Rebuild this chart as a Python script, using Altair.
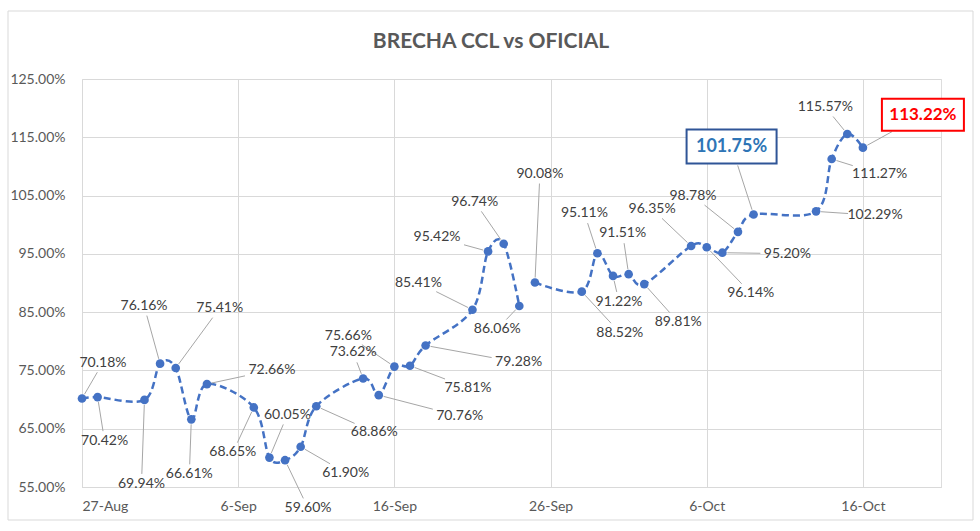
import altair as alt
import pandas as pd
import numpy as np

# ---------------- data ----------------
dates = ["2020-08-27", "2020-08-28", "2020-08-31", "2020-09-01", "2020-09-02", "2020-09-03",
         "2020-09-04", "2020-09-07", "2020-09-08", "2020-09-09", "2020-09-10", "2020-09-11",
         "2020-09-14", "2020-09-15", "2020-09-16", "2020-09-17", "2020-09-18", "2020-09-21",
         "2020-09-22", "2020-09-23", "2020-09-24", "2020-09-25", "2020-09-28", "2020-09-29",
         "2020-09-30", "2020-10-01", "2020-10-02", "2020-10-05", "2020-10-06", "2020-10-07",
         "2020-10-08", "2020-10-09", "2020-10-13", "2020-10-14", "2020-10-15", "2020-10-16"]
brecha = [70.18, 70.42, 69.94, 76.16, 75.41, 66.61, 72.66, 68.65, 60.05, 59.60, 61.90, 68.86,
          73.62, 70.76, 75.66, 75.81, 79.28, 85.41, 95.42, 96.74, 86.06, 90.08, 88.52, 95.11,
          91.22, 91.51, 89.81, 96.35, 96.14, 95.20, 98.78, 101.75, 102.29, 111.27, 115.57, 113.22]
# line is interrupted between 24-Sep and 25-Sep
segment = [0] * 21 + [1] * 15
highlight = ["none"] * 31 + ["blue"] + ["none"] * 3 + ["red"]

tick_days = [0, 10, 20, 30, 40, 50]
tick_labels = ["27-Aug", "6-Sep", "16-Sep", "26-Sep", "6-Oct", "16-Oct"]
y_ticks = [55, 65, 75, 85, 95, 105, 115, 125]
title_text = "BRECHA CCL vs OFICIAL"

# ---------------- label placement (pixels, relative to point) ----------------
label_dx = [21, 7, -3, -16, 44, -2, 65, -21, 18, 23, 45, 58, -10, 81, -46, 58, 93, -54,
            -51, -29, -22, 5, 38, -13, 6, -6, 34, -39, 44, 65, -45, -22, 59, 48, -22, 60]
label_dy = [-36, 44, 84, -58, -60, 55, -14, 45, -43, 48, 26, 26, -26, 21, -31, 22, 17, -27,
            -14, -42, 23, -109, 41, -40, 26, -41, 38, -37, 46, 1, -36, -68, 4, 15, -27, -33]

# ---------------- layout ----------------
W, H = 859, 408
X_DOM = [0, 55]
Y_DOM = [55, 125]
kx = (X_DOM[1] - X_DOM[0]) / W
ky = (Y_DOM[1] - Y_DOM[0]) / H

start = pd.Timestamp(dates[0])
day = (pd.to_datetime(dates) - start).days.astype(float)

df = pd.DataFrame({"date": dates, "day": day, "val": brecha, "seg": segment, "hl": highlight})
df["label"] = [f"{v:.2f}%" for v in brecha]
df["lx"] = df["day"] + np.array(label_dx) * kx
df["ly"] = df["val"] - np.array(label_dy) * ky

# leader lines
rows = []
box_half = {"none": (25, 8), "blue": (45, 17), "red": (41, 16)}
for i in range(len(df)):
    dx, dy = label_dx[i], label_dy[i]
    hw, hh = box_half[highlight[i]]
    d = (dx ** 2 + dy ** 2) ** 0.5
    ux, uy = dx / d, dy / d
    t = min(hw / abs(dx) if dx else 1e9, hh / abs(dy) if dy else 1e9)
    ex, ey = dx * (1 - t) - ux * 2, dy * (1 - t) - uy * 2
    sx, sy = ux * 5, uy * 5
    if (ex ** 2 + ey ** 2) ** 0.5 > 9:
        rows.append({"x1": df.day[i] + sx * kx, "y1": df.val[i] - sy * ky,
                     "x2": df.day[i] + ex * kx, "y2": df.val[i] - ey * ky})
leaders = pd.DataFrame(rows)

boxes = df[df.hl != "none"].copy()
boxes["bx1"] = [r.lx - box_half[r.hl][0] * kx for r in boxes.itertuples()]
boxes["bx2"] = [r.lx + box_half[r.hl][0] * kx for r in boxes.itertuples()]
boxes["by1"] = [r.ly - box_half[r.hl][1] * ky for r in boxes.itertuples()]
boxes["by2"] = [r.ly + box_half[r.hl][1] * ky for r in boxes.itertuples()]

# ---------------- encodings ----------------
label_expr = "[" + ",".join(f"'{t}'" for t in tick_labels) + "][indexof(" + str(tick_days) + ", datum.value)]"
xs = alt.Scale(domain=X_DOM, nice=False, zero=False)
ys = alt.Scale(domain=Y_DOM, nice=False, zero=False)
axis_style = dict(gridColor="#d9d9d9", domainColor="#d9d9d9", labelFont="Lato",
                  labelFontSize=14, labelColor="#595959", ticks=False, title=None)
x_axis = alt.Axis(values=tick_days, labelExpr=label_expr, grid=True, domain=True,
                  labelPadding=12, **axis_style)
y_axis = alt.Axis(values=y_ticks, labelExpr="format(datum.value, '.2f') + '%'", grid=True,
                  domain=False, labelPadding=17, **axis_style)

base = alt.Chart(df)

line = base.mark_line(color="#4472C4", strokeWidth=2.5, strokeDash=[7, 4],
                      interpolate="cardinal").encode(
    x=alt.X("day:Q", scale=xs, axis=x_axis),
    y=alt.Y("val:Q", scale=ys, axis=y_axis),
    detail="seg:N",
)
points = base.mark_circle(color="#4472C4", size=75, opacity=1).encode(
    x=alt.X("day:Q", scale=xs, axis=x_axis),
    y=alt.Y("val:Q", scale=ys, axis=y_axis),
)
leader = alt.Chart(leaders).mark_rule(color="#a6a6a6", strokeWidth=1).encode(
    x=alt.X("x1:Q", scale=xs, axis=x_axis),
    y=alt.Y("y1:Q", scale=ys, axis=y_axis),
    x2="x2:Q",
    y2="y2:Q",
)
labels = base.transform_filter("datum.hl == 'none'").mark_text(
    font="Lato", fontSize=14, color="#404040", align="center", baseline="middle").encode(
    x=alt.X("lx:Q", scale=xs, axis=x_axis),
    y=alt.Y("ly:Q", scale=ys, axis=y_axis),
    text="label:N",
)

blue_box = alt.Chart(boxes[boxes.hl == "blue"]).mark_rect(
    fill="white", stroke="#2F5597", strokeWidth=2).encode(
    x=alt.X("bx1:Q", scale=xs, axis=x_axis), x2="bx2:Q",
    y=alt.Y("by1:Q", scale=ys, axis=y_axis), y2="by2:Q")
red_box = alt.Chart(boxes[boxes.hl == "red"]).mark_rect(
    fill="white", stroke="#FF0000", strokeWidth=2).encode(
    x=alt.X("bx1:Q", scale=xs, axis=x_axis), x2="bx2:Q",
    y=alt.Y("by1:Q", scale=ys, axis=y_axis), y2="by2:Q")
blue_text = alt.Chart(boxes[boxes.hl == "blue"]).mark_text(
    font="Lato", fontSize=18, fontWeight="bold", color="#2E75B6",
    align="center", baseline="middle").encode(
    x=alt.X("lx:Q", scale=xs, axis=x_axis),
    y=alt.Y("ly:Q", scale=ys, axis=y_axis), text="label:N")
red_text = alt.Chart(boxes[boxes.hl == "red"]).mark_text(
    font="Lato", fontSize=17, fontWeight="bold", color="#FF0000",
    align="center", baseline="middle").encode(
    x=alt.X("lx:Q", scale=xs, axis=x_axis),
    y=alt.Y("ly:Q", scale=ys, axis=y_axis), text="label:N")

one = pd.DataFrame({"t": [title_text]})
frame = alt.Chart(one).mark_rect(
    fillOpacity=0, stroke="#d9d9d9", strokeWidth=1).encode(
    x=alt.value(-74), x2=alt.value(891), y=alt.value(-68), y2=alt.value(441))
title = alt.Chart(one).mark_text(
    font="Lato", fontSize=21, fontWeight="bold", color="#595959",
    align="center", baseline="middle").encode(
    x=alt.value(409), y=alt.value(-37), text="t:N")

chart = alt.layer(frame, title, line, points, leader, labels, blue_box, red_box,
                  blue_text, red_text).properties(
    width=W, height=H,
    autosize=alt.AutoSizeParams(type="none"),
    padding={"left": 82, "top": 79, "right": 39, "bottom": 44},
).configure_view(stroke=None).configure(background="white")

chart.save("out.html", embed_options={"renderer": "svg", "actions": False})
